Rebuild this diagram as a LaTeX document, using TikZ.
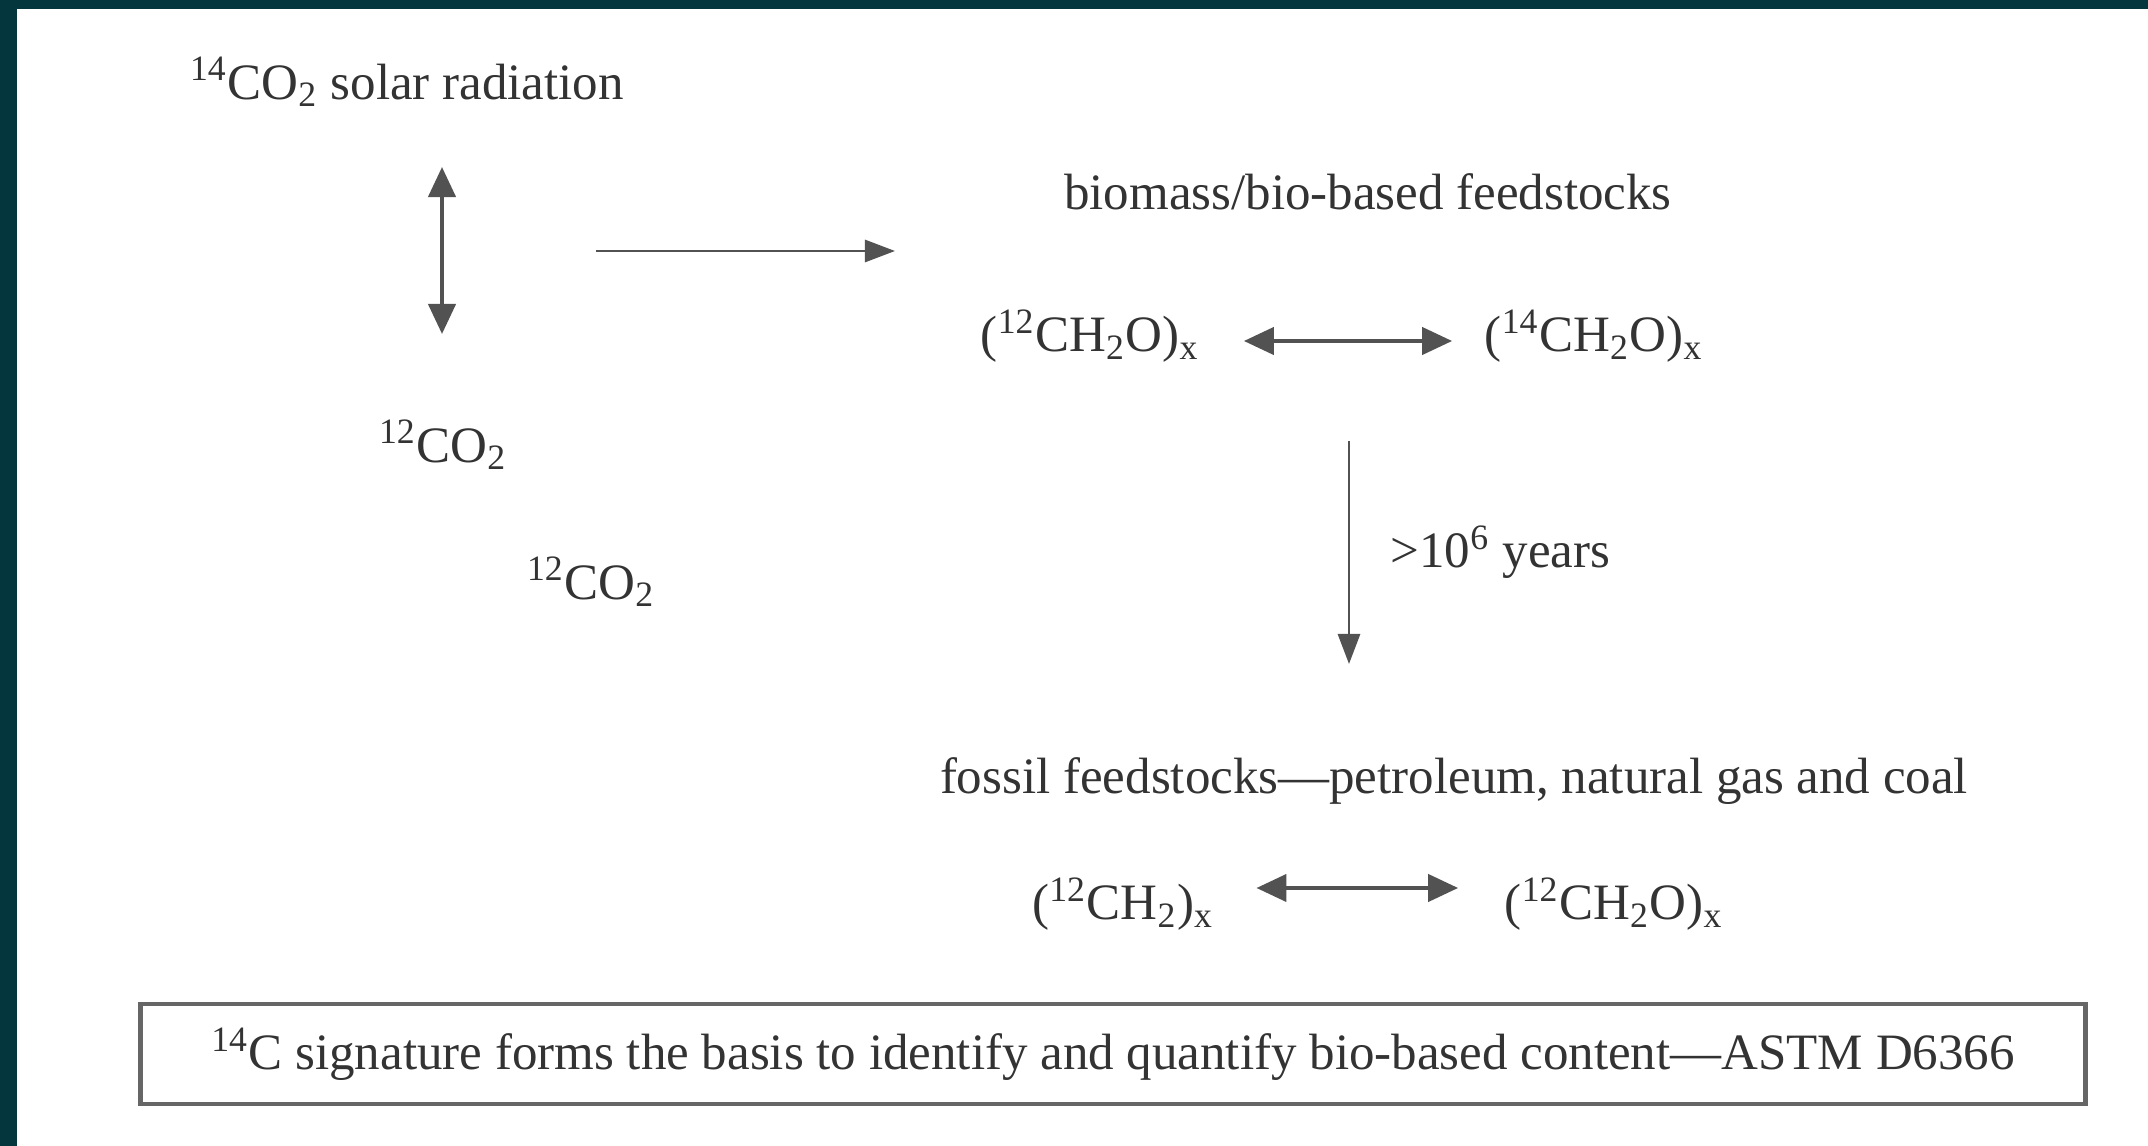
\documentclass[tikz,border=0pt]{standalone}
\usepackage{fontspec}
\setmainfont{Liberation Serif}
\usetikzlibrary{arrows.meta,positioning}
\definecolor{frame}{HTML}{03363D}
\definecolor{ink}{HTML}{333333}

\begin{document}
\begin{tikzpicture}[
  x=0.01cm, y=-0.01cm,
  lbl/.style={inner sep=0pt, text=ink, font=\fontsize{14.5}{17}\selectfont},
  dbl/.style={{Triangle[length=0.3cm,width=0.27cm]}-{Triangle[length=0.3cm,width=0.27cm]}, draw=ink!85, line width=1.2pt},
  one/.style={-{Triangle[length=0.3cm,width=0.22cm]}, draw=ink!85, line width=0.8pt}
]%
  % Page and frame
  \useasboundingbox (0,0) rectangle (2148,1146);
  \fill[white] (0,0) rectangle (2148,1146);
  \fill[frame] (0,0) rectangle (2148,9);
  \fill[frame] (0,0) rectangle (17,1146);

  % Atmosphere
  \node[lbl] (solar) at (407,82) {\textsuperscript{14}CO\textsubscript{2} solar radiation};
  \node[lbl] (co2a) at (443,445) {\textsuperscript{12}CO\textsubscript{2}};
  \node[lbl] (co2b) at (591,582) {\textsuperscript{12}CO\textsubscript{2}};
  \coordinate (swapTop) at (442,167);
  \coordinate (swapBot) at (442,334);
  \draw[dbl] (swapTop) -- (swapBot);

  % Biomass
  \coordinate (fixStart) at (596,251);
  \coordinate (fixEnd) at (895,251);
  \draw[one] (fixStart) -- (fixEnd);
  \node[lbl] (bio) at (1368,192) {biomass/bio-based feedstocks};
  \node[lbl] (ch2oA) at (1090,336) {(\textsuperscript{12}CH\textsubscript{2}O)\textsubscript{x}};
  \node[lbl] (ch2oB) at (1594,336) {(\textsuperscript{14}CH\textsubscript{2}O)\textsubscript{x}};
  \draw[dbl,shorten <=0.44cm,shorten >=0.32cm]
    ([yshift=-0.05cm]ch2oA.east) -- ([yshift=-0.05cm]ch2oB.west);

  % Fossilisation
  \coordinate (ageTop) at (1349,441);
  \coordinate (ageBot) at (1349,664);
  \draw[one] (ageTop) -- (ageBot);
  \node[lbl,anchor=west] (years) at (1390,552) {>10\textsuperscript{6} years};

  % Fossil
  \node[lbl] (fossil) at (1454,781) {fossil feedstocks---petroleum, natural gas and coal};
  \node[lbl] (ch2) at (1123,904) {(\textsuperscript{12}CH\textsubscript{2})\textsubscript{x}};
  \node[lbl] (ch2oC) at (1614,904) {(\textsuperscript{12}CH\textsubscript{2}O)\textsubscript{x}};
  \draw[dbl,shorten <=0.42cm,shorten >=0.46cm]
    ([yshift=0.16cm]ch2.east) -- ([yshift=0.16cm]ch2oC.west);

  % Statement
  \node[lbl,draw=ink!75,line width=1.3pt,minimum width=19.44cm,minimum height=1cm] (basis) at (1113,1054)
    {\textsuperscript{14}C signature forms the basis to identify and quantify bio-based content---ASTM D6366};
\end{tikzpicture}
\end{document}
